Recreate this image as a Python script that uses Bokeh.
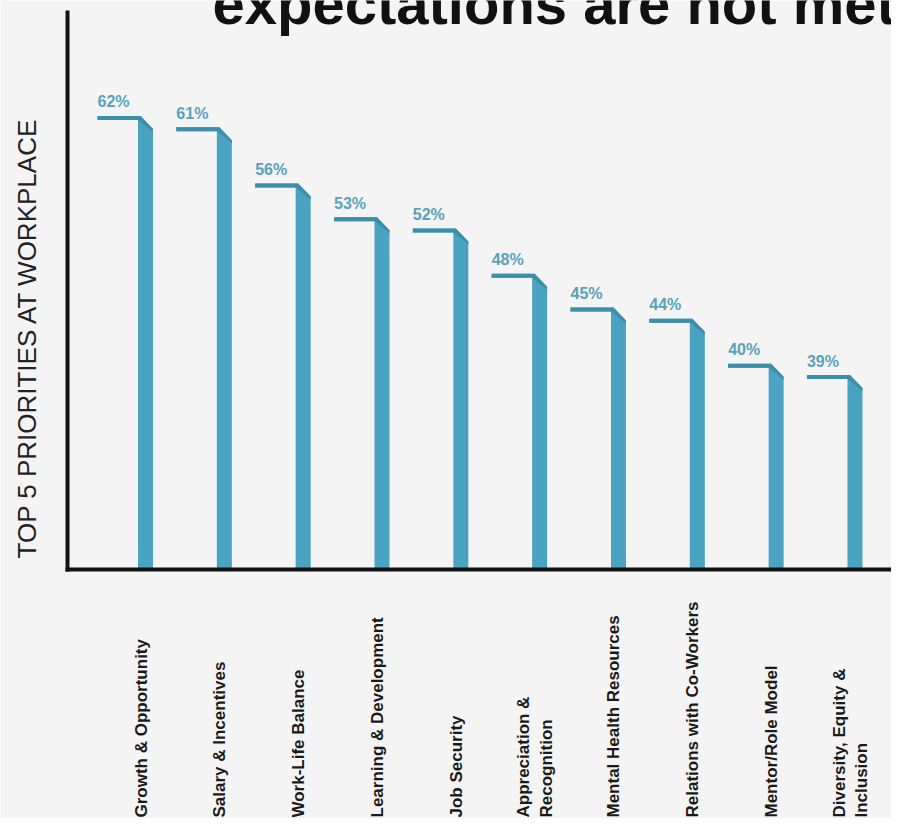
import math
from bokeh.plotting import figure
from bokeh.models import Range1d, ColumnDataSource
from bokeh.core.properties import value
from bokeh.embed import file_html
from bokeh.resources import INLINE

# ---------------- data ----------------
categories = [
    "Growth & Opportunity",
    "Salary & Incentives",
    "Work-Life Balance",
    "Learning & Development",
    "Job Security",
    "Appreciation &\nRecognition",
    "Mental Health Resources",
    "Relations with Co-Workers",
    "Mentor/Role Model",
    "Diversity, Equity &\nInclusion",
]
values = [62, 61, 56, 53, 52, 48, 45, 44, 40, 39]
value_labels = ["62%", "61%", "56%", "53%", "52%", "48%", "45%", "44%", "40%", "39%"]
title_text = "expectations are not met"
y_axis_label = "TOP 5 PRIORITIES AT WORKPLACE"

# ---------------- layout / scale ----------------
W, H = 891, 818
X0, XS = 145.0, 78.83              # canvas x of category i = X0 + XS*i
Y0, YS, V0 = 569.0, 11.265, 21.74  # canvas y of value v = Y0 - YS*(v - V0)


def xd(px):
    return (px - X0) / XS


def yd(py):
    return V0 + (Y0 - py) / YS


FONT = value("Liberation Sans")
BG = "#f4f4f4"
BAR = "#4aa3c1"
BAR_TOP = "#3d8eaa"
LABEL_TEAL = "#58a2bd"

p = figure(
    width=W, height=H, output_backend="svg", toolbar_location=None,
    x_range=Range1d(xd(0), xd(W)),
    y_range=Range1d(yd(H), yd(0)),
    x_axis_location=None, y_axis_location=None,
    min_border=0, outline_line_color=None,
    background_fill_color=BG, border_fill_color=BG,
)
p.grid.visible = False

# ---------------- bars (L-shaped with bevel) ----------------
base = yd(Y0)
body_xs, body_ys, top_xs, top_ys = [], [], [], []
for i, v in enumerate(values):
    def X(dpx):
        return i + dpx / XS

    def Y(dpx):
        return v - dpx / YS

    body_xs.append([X(-48), X(-5), X(7.5), X(7.5), X(-7.5), X(-7.5), X(-48)])
    body_ys.append([Y(0), Y(0), Y(13), base, base, Y(4), Y(4)])
    top_xs.append([X(-48), X(-5), X(7.5), X(7.5), X(-7.5), X(-48)])
    top_ys.append([Y(0), Y(0), Y(13), Y(16), Y(4), Y(4)])

p.patches(body_xs, body_ys, fill_color=BAR, line_color=None)
p.patches(top_xs, top_ys, fill_color=BAR_TOP, line_color=None)

# ---------------- axis lines ----------------
p.segment(x0=[xd(67)], y0=[yd(10)], x1=[xd(67)], y1=[yd(571)],
          line_color="#111111", line_width=4)
p.segment(x0=[xd(65)], y0=[yd(569)], x1=[xd(W)], y1=[yd(569)],
          line_color="#111111", line_width=4)

# ---------------- value labels ----------------
idx = list(range(len(values)))
src = ColumnDataSource(dict(
    x=[i - 48 / XS for i in idx],
    y=[v + 14 / YS for v in values],
    t=value_labels,
))
p.text(x="x", y="y", text="t", source=src, text_font=FONT, text_font_style="bold",
       text_font_size="16px", text_color=LABEL_TEAL, text_align="left",
       text_baseline="alphabetic")

# ---------------- category labels ----------------
csrc = ColumnDataSource(dict(
    x=[i - 4.5 / XS for i in idx],
    y=[yd(817)] * len(idx),
    t=categories,
))
p.text(x="x", y="y", text="t", source=csrc, angle=math.pi / 2,
       text_font=FONT, text_font_style="bold", text_font_size="17px",
       text_color="#1a1a1a", text_align="left", text_baseline="middle",
       text_line_height=1.2)

# ---------------- y axis title ----------------
p.text(x=[xd(26.5)], y=[yd(558)], text=[y_axis_label], angle=math.pi / 2,
       text_font=FONT, text_font_size="26px", text_color="#222222",
       text_align="left", text_baseline="alphabetic")

# ---------------- chart title (cropped at top) ----------------
p.text(x=[xd(212)], y=[yd(3)], text=[title_text],
       text_font=FONT, text_font_style="bold", text_font_size="58px",
       text_color="#111111", text_align="left", text_baseline="alphabetic")

open("out.html", "w").write(file_html(p, INLINE))
